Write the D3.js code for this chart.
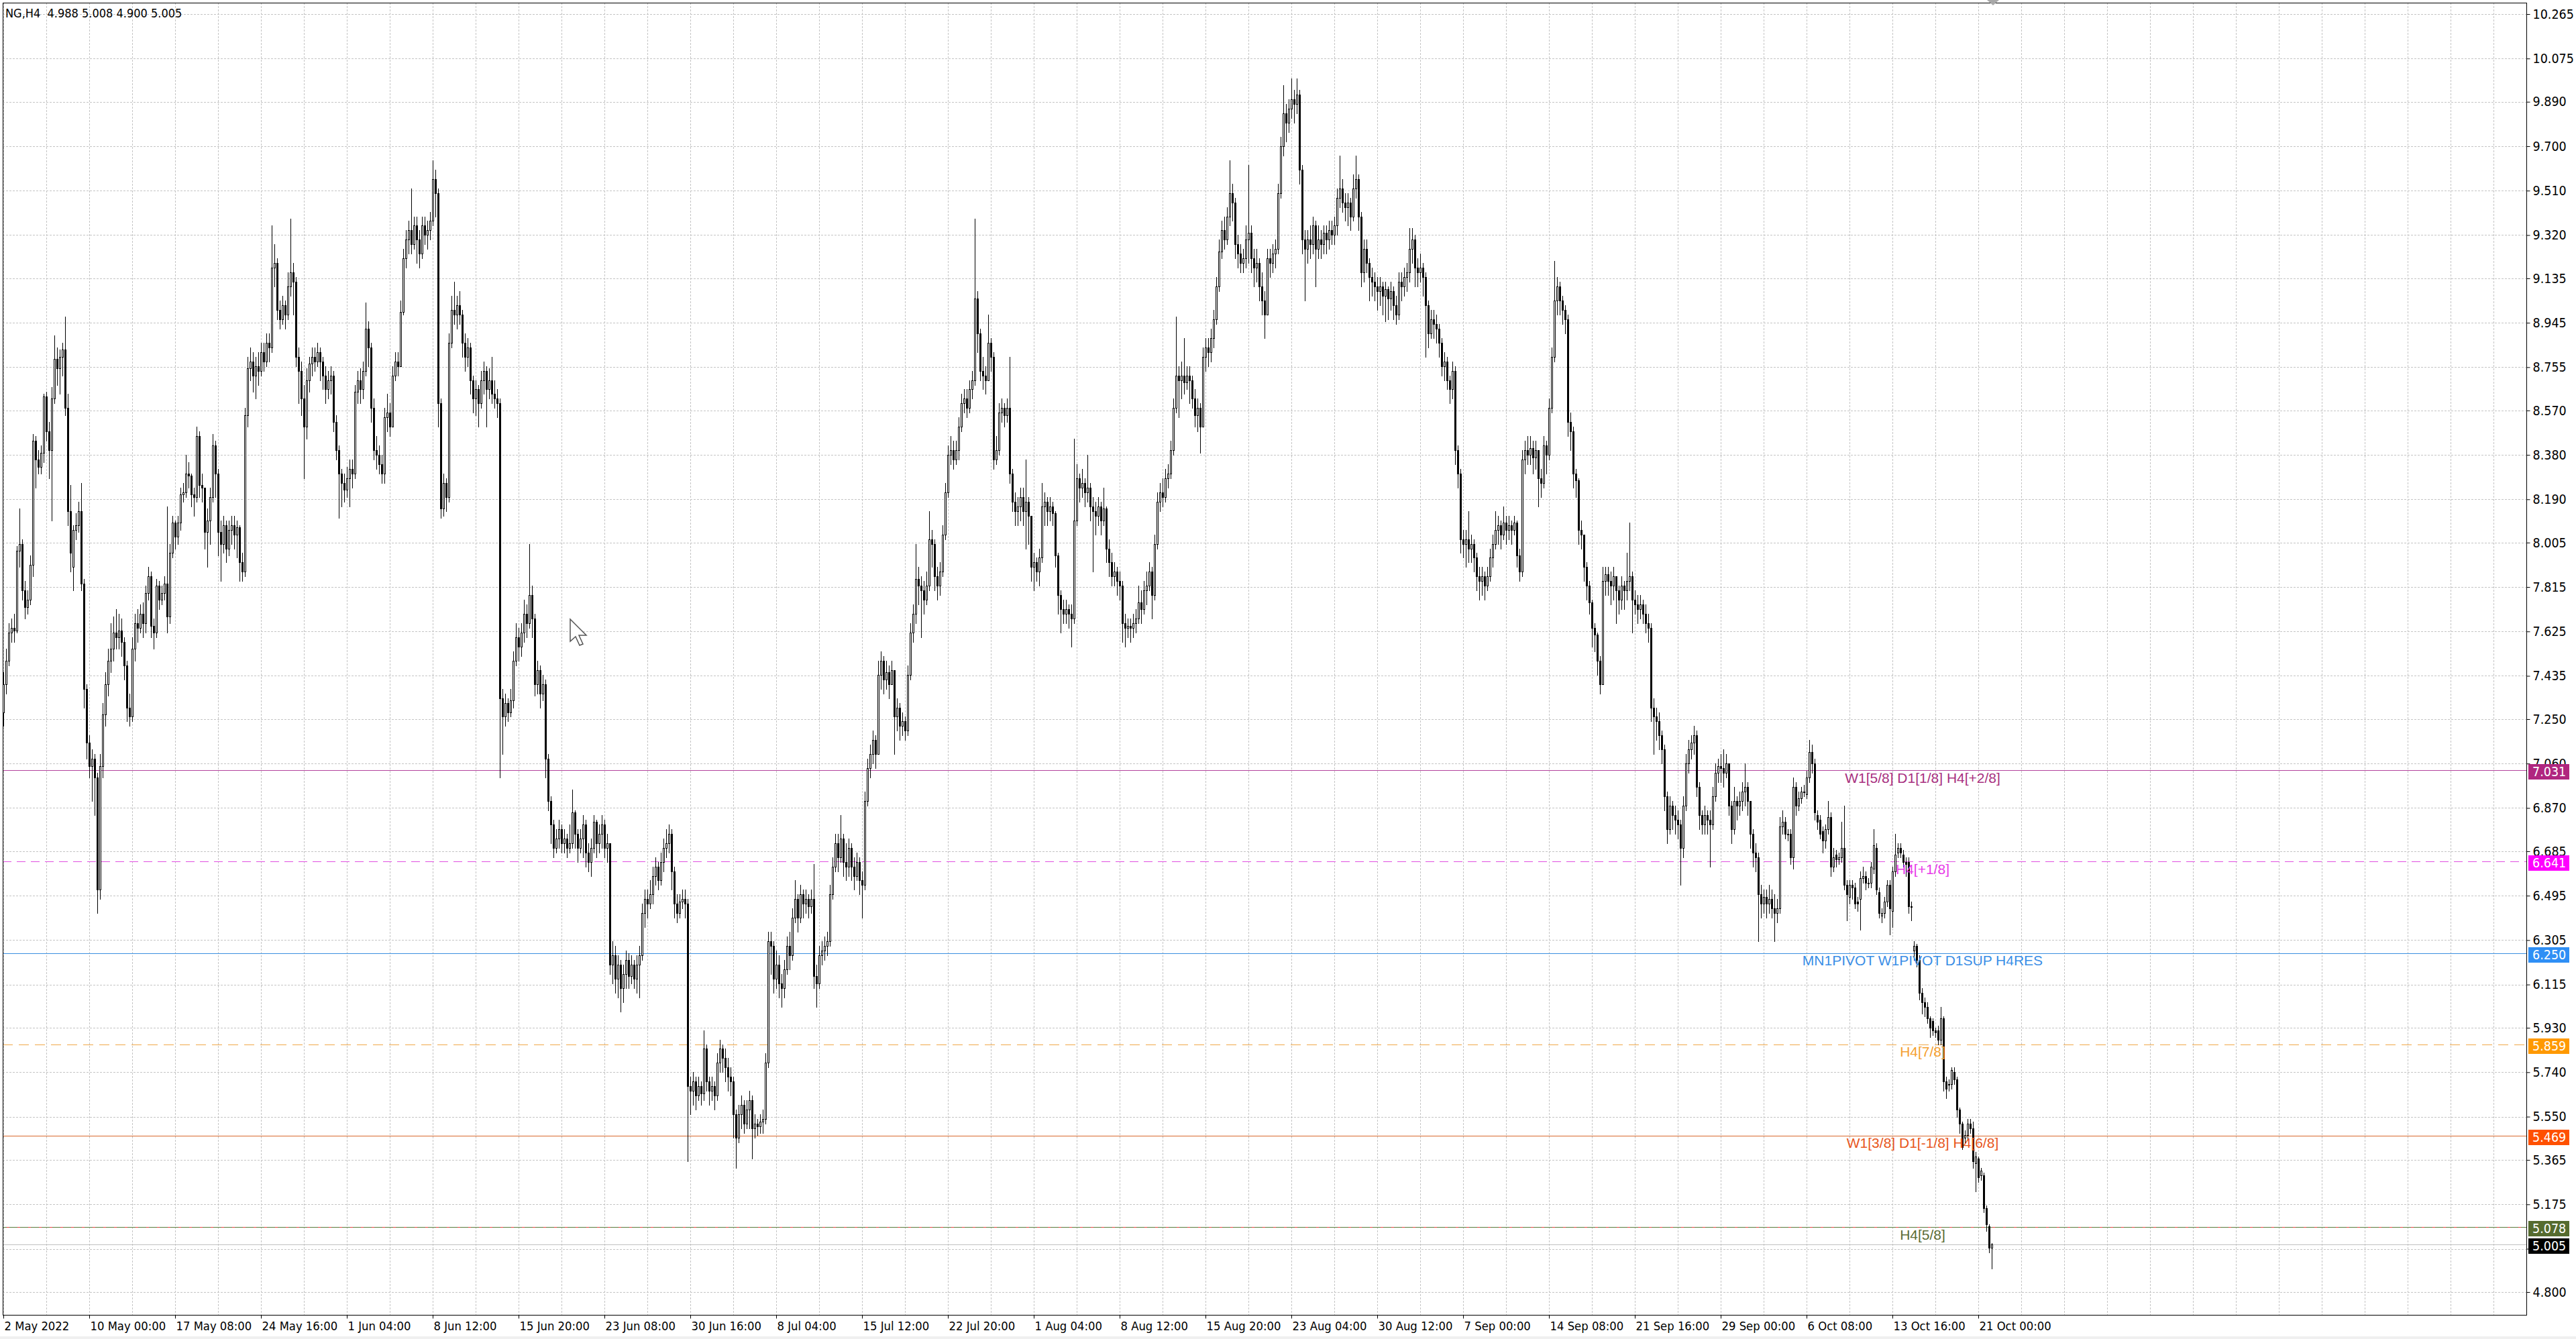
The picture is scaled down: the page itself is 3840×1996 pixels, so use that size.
<!DOCTYPE html>
<html><head><meta charset="utf-8">
<script src="https://cdn.jsdelivr.net/npm/d3@7"></script>
<style>
html,body{margin:0;padding:0;background:#fff;overflow:hidden;}
svg{display:block;}
</style></head><body>
<svg id="chart" width="3840" height="1996"></svg>
<script>
// ---------------- DATA ----------------
const symbolInfo = "NG,H4  4.988 5.008 4.900 5.005";

const opens = [
7.28,7.40,7.50,7.62,7.64,7.63,7.97,8.00,7.80,7.73,
7.76,7.91,8.44,8.36,8.33,8.39,8.63,8.48,8.40,8.62,
8.79,8.75,8.80,8.83,8.58,8.14,7.90,8.06,8.08,8.14,
7.83,7.38,7.15,7.05,7.08,7.00,6.52,7.05,7.27,7.40,
7.50,7.55,7.62,7.60,7.63,7.58,7.48,7.30,7.26,7.55,
7.66,7.64,7.70,7.66,7.79,7.86,7.65,7.62,7.82,7.76,
7.79,7.83,7.69,7.96,8.09,8.03,8.09,8.21,8.22,8.30,
8.29,8.21,8.20,8.46,8.25,8.24,8.05,8.10,8.20,8.42,
8.30,8.05,8.00,8.08,7.98,8.06,8.08,8.04,8.07,7.92,
7.88,8.55,8.75,8.78,8.72,8.76,8.74,8.82,8.78,8.86,
8.84,9.18,9.20,9.00,8.96,9.02,8.98,9.10,9.16,9.12,
8.80,8.74,8.62,8.50,8.70,8.77,8.80,8.78,8.82,8.78,
8.72,8.66,8.70,8.72,8.52,8.40,8.30,8.26,8.23,8.28,
8.32,8.30,8.65,8.70,8.66,8.74,8.92,8.84,8.58,8.40,
8.38,8.34,8.30,8.54,8.56,8.50,8.72,8.78,8.76,8.99,
9.22,9.30,9.34,9.28,9.36,9.30,9.24,9.36,9.32,9.34,
9.38,9.56,9.50,8.60,8.15,8.26,8.20,8.86,9.00,8.98,
9.02,8.98,8.86,8.80,8.84,8.70,8.62,8.66,8.60,8.70,
8.74,8.66,8.70,8.64,8.62,8.60,7.34,7.26,7.32,7.28,
7.33,7.50,7.60,7.56,7.62,7.70,7.66,7.78,7.68,7.40,
7.46,7.36,7.40,7.08,6.90,6.80,6.70,6.74,6.78,6.72,
6.74,6.70,6.72,6.85,6.76,6.70,6.74,6.80,6.68,6.64,
6.70,6.81,6.72,6.76,6.80,6.70,6.72,6.20,6.24,6.14,
6.20,6.10,6.16,6.22,6.15,6.20,6.14,6.20,6.24,6.42,
6.48,6.46,6.50,6.58,6.62,6.56,6.64,6.70,6.72,6.76,
6.60,6.46,6.42,6.47,6.48,6.46,5.68,5.66,5.70,5.64,
5.68,5.65,5.84,5.70,5.66,5.68,5.64,5.78,5.84,5.80,
5.76,5.72,5.70,5.56,5.46,5.56,5.60,5.52,5.58,5.62,
5.50,5.52,5.51,5.53,5.54,5.78,6.30,6.28,6.14,6.20,
6.12,6.10,6.18,6.28,6.24,6.40,6.48,6.40,6.50,6.46,
6.48,6.45,6.48,6.15,6.12,6.24,6.26,6.28,6.30,6.50,
6.62,6.72,6.66,6.74,6.64,6.62,6.70,6.62,6.58,6.64,
6.56,6.54,6.90,7.04,7.10,7.16,7.10,7.44,7.50,7.42,
7.45,7.40,7.46,7.26,7.30,7.22,7.24,7.20,7.44,7.62,
7.70,7.85,7.82,7.80,7.76,7.82,8.02,8.00,7.86,7.82,
7.88,8.04,8.22,8.38,8.40,8.36,8.40,8.50,8.60,8.62,
8.58,8.66,8.70,9.05,8.90,8.74,8.72,8.70,8.86,8.80,
8.36,8.40,8.56,8.58,8.55,8.58,8.30,8.18,8.14,8.16,
8.20,8.14,8.18,8.12,7.90,7.92,7.88,7.94,8.16,8.18,
8.14,8.16,8.13,7.95,7.78,7.72,7.70,7.72,7.70,7.68,
8.10,8.28,8.24,8.26,8.22,8.24,8.16,8.14,8.12,8.16,
8.10,8.15,7.98,7.92,7.86,7.88,7.84,7.82,7.66,7.64,
7.65,7.64,7.66,7.68,7.75,7.72,7.80,7.82,7.88,7.78,
8.00,8.18,8.22,8.20,8.28,8.30,8.40,8.58,8.72,8.70,
8.72,8.69,8.72,8.70,8.62,8.55,8.58,8.50,8.80,8.84,
8.82,8.88,8.96,9.10,9.25,9.34,9.30,9.40,9.50,9.46,
9.28,9.24,9.20,9.22,9.30,9.33,9.22,9.18,9.20,9.10,
9.04,8.98,9.22,9.20,9.24,9.26,9.50,9.70,9.84,9.80,
9.86,9.90,9.88,9.92,9.60,9.30,9.26,9.30,9.28,9.36,
9.26,9.30,9.28,9.33,9.30,9.34,9.32,9.36,9.48,9.52,
9.46,9.44,9.46,9.40,9.52,9.56,9.40,9.16,9.26,9.20,
9.14,9.12,9.10,9.08,9.10,9.06,9.09,9.05,9.08,9.02,
8.98,9.12,9.10,9.14,9.16,9.26,9.30,9.18,9.16,9.18,
9.14,9.02,8.90,8.96,8.94,8.92,8.86,8.76,8.78,8.70,
8.66,8.74,8.40,8.30,8.02,8.00,8.02,7.98,8.00,7.94,
7.86,7.84,7.86,7.82,7.86,7.94,8.00,8.06,8.08,8.04,
8.09,8.06,8.08,8.06,8.09,7.95,7.88,8.36,8.40,8.38,
8.41,8.37,8.40,8.28,8.26,8.42,8.38,8.58,8.80,9.04,
9.10,9.04,9.00,8.96,8.52,8.48,8.30,8.27,8.06,8.04,
7.90,7.82,7.75,7.64,7.61,7.50,7.40,7.84,7.87,7.84,
7.82,7.86,7.80,7.76,7.82,7.80,7.84,7.86,7.76,7.74,
7.72,7.74,7.70,7.66,7.64,7.30,7.26,7.24,7.18,7.12,
6.92,6.78,6.88,6.84,6.82,6.80,6.70,6.88,7.06,7.12,
7.15,7.18,6.96,6.84,6.80,6.84,6.82,6.80,6.92,7.02,
7.05,7.04,7.02,7.06,6.88,6.78,6.90,6.88,6.90,6.94,
6.96,6.90,6.76,6.68,6.66,6.50,6.46,6.49,6.46,6.48,
6.44,6.42,6.44,6.79,6.81,6.76,6.76,6.66,6.96,6.88,
6.91,6.94,6.93,7.00,7.11,7.06,6.84,6.82,6.77,6.73,
6.78,6.83,6.62,6.67,6.65,6.66,6.70,6.54,6.49,6.54,
6.53,6.47,6.48,6.57,6.58,6.55,6.55,6.61,6.70,6.51,
6.41,6.42,6.47,6.54,6.43,6.60,6.68,6.70,6.67,6.64,
6.64,6.45,6.26,6.28,6.22,6.08,6.04,6.02,5.97,5.96,
5.92,5.92,5.88,5.97,5.70,5.69,5.69,5.74,5.71,5.58,
5.52,5.46,5.47,5.52,5.50,5.35,5.37,5.30,5.30,5.16,
5.08,4.988];

const highs = [
7.45,7.55,7.66,7.68,7.70,7.99,8.15,8.02,7.84,7.80,
7.95,8.47,8.46,8.40,8.42,8.64,8.65,8.52,8.67,8.89,
8.84,8.83,8.86,8.97,8.64,8.25,8.08,8.13,8.18,8.26,
7.85,7.40,7.18,7.12,7.10,7.02,7.10,7.32,7.45,7.55,
7.66,7.69,7.72,7.70,7.68,7.60,7.50,7.36,7.60,7.70,
7.72,7.74,7.75,7.82,7.90,7.88,7.68,7.85,7.84,7.82,
7.86,8.16,8.00,8.12,8.10,8.12,8.24,8.26,8.38,8.35,
8.30,8.24,8.50,8.48,8.30,8.24,8.15,8.24,8.47,8.44,
8.32,8.10,8.12,8.10,8.10,8.12,8.12,8.10,8.08,7.96,
8.58,8.80,8.84,8.82,8.80,8.82,8.86,8.86,8.90,8.90,
9.36,9.28,9.22,9.04,9.06,9.04,9.16,9.39,9.20,9.14,
8.84,8.78,8.68,8.75,8.80,8.84,8.84,8.86,8.84,8.80,
8.76,8.74,8.76,8.74,8.55,8.42,8.32,8.30,8.33,8.36,
8.36,8.68,8.74,8.75,8.78,9.03,8.95,8.86,8.62,8.46,
8.42,8.38,8.58,8.64,8.60,8.76,8.82,8.82,9.04,9.26,
9.34,9.38,9.52,9.40,9.40,9.34,9.40,9.40,9.38,9.42,
9.64,9.60,9.52,8.62,8.30,8.28,8.90,9.06,9.12,9.06,
9.08,9.00,8.90,8.88,8.86,8.72,8.70,8.68,8.74,8.78,
8.76,8.75,8.80,8.70,8.66,8.62,7.38,7.36,7.34,7.38,
7.54,7.66,7.64,7.66,7.76,7.74,8.00,7.82,7.70,7.50,
7.48,7.44,7.42,7.10,6.92,6.82,6.78,6.82,6.80,6.78,
6.76,6.80,6.95,6.86,6.78,6.78,6.84,6.82,6.72,6.74,
6.84,6.82,6.80,6.84,6.82,6.76,6.72,6.30,6.28,6.24,
6.22,6.20,6.26,6.25,6.24,6.22,6.24,6.28,6.46,6.52,
6.52,6.56,6.62,6.66,6.64,6.68,6.74,6.78,6.80,6.78,
6.62,6.50,6.50,6.52,6.52,6.48,5.72,5.74,5.72,5.72,
5.70,5.92,5.86,5.72,5.72,5.70,5.82,5.88,5.86,5.84,
5.80,5.76,5.72,5.58,5.60,5.64,5.62,5.62,5.66,5.64,
5.56,5.54,5.56,5.58,5.82,6.34,6.34,6.30,6.26,6.24,
6.16,6.22,6.32,6.34,6.44,6.56,6.50,6.54,6.52,6.52,
6.50,6.52,6.63,6.20,6.28,6.30,6.32,6.34,6.54,6.66,
6.76,6.76,6.84,6.76,6.72,6.74,6.72,6.66,6.68,6.66,
6.60,6.94,7.08,7.14,7.20,7.18,7.50,7.54,7.52,7.50,
7.48,7.50,7.46,7.34,7.32,7.28,7.26,7.48,7.66,7.74,
8.00,7.90,7.86,7.84,7.88,8.14,8.06,8.02,7.90,7.92,
8.08,8.26,8.42,8.46,8.44,8.44,8.54,8.64,8.66,8.66,
8.70,8.74,9.39,9.08,8.92,8.80,8.76,8.98,8.88,8.82,
8.46,8.60,8.62,8.60,8.62,8.80,8.32,8.22,8.20,8.24,
8.24,8.36,8.20,8.12,7.96,7.94,7.98,8.26,8.22,8.20,
8.20,8.18,8.14,7.96,7.80,7.76,7.76,7.74,7.74,8.45,
8.34,8.30,8.32,8.28,8.38,8.26,8.20,8.18,8.20,8.18,
8.24,8.16,8.02,7.96,7.92,7.90,7.88,7.84,7.70,7.68,
7.68,7.70,7.72,7.82,7.80,7.84,7.88,7.92,7.90,8.04,
8.22,8.26,8.28,8.32,8.34,8.44,8.62,8.97,8.76,8.78,
8.88,8.76,8.76,8.72,8.66,8.62,8.60,8.84,8.88,8.88,
8.92,9.00,9.14,9.30,9.38,9.40,9.44,9.64,9.54,9.48,
9.32,9.28,9.26,9.36,9.62,9.36,9.26,9.26,9.22,9.16,
9.08,9.26,9.26,9.28,9.30,9.54,9.74,9.96,9.88,9.90,
9.99,9.94,9.99,9.94,9.62,9.34,9.34,9.36,9.40,9.38,
9.36,9.34,9.36,9.36,9.38,9.38,9.40,9.52,9.66,9.56,
9.50,9.50,9.48,9.58,9.66,9.58,9.42,9.30,9.30,9.22,
9.18,9.16,9.14,9.14,9.12,9.12,9.10,9.12,9.10,9.06,
9.16,9.16,9.18,9.20,9.35,9.35,9.32,9.22,9.24,9.20,
9.16,9.04,9.00,9.00,8.98,8.94,8.88,8.82,8.80,8.72,
8.78,8.76,8.42,8.32,8.06,8.06,8.14,8.04,8.02,7.96,
7.90,7.90,7.88,7.90,7.98,8.04,8.14,8.12,8.10,8.16,
8.12,8.12,8.10,8.12,8.10,7.98,8.40,8.44,8.46,8.46,
8.44,8.44,8.40,8.32,8.46,8.44,8.62,8.84,9.21,9.14,
9.12,9.06,9.02,8.98,8.56,8.50,8.32,8.28,8.10,8.04,
7.92,7.84,7.76,7.66,7.62,7.52,7.90,7.90,7.90,7.88,
7.90,7.86,7.82,7.86,7.84,7.96,8.09,7.88,7.80,7.78,
7.78,7.76,7.74,7.70,7.66,7.34,7.30,7.28,7.20,7.14,
6.94,6.92,6.90,6.88,6.86,6.82,6.92,7.10,7.16,7.18,
7.22,7.20,6.98,6.86,6.88,6.86,6.86,6.96,7.06,7.08,
7.10,7.12,7.10,7.06,6.90,6.96,6.92,6.94,6.98,7.06,
6.98,6.90,6.78,6.72,6.68,6.54,6.52,6.52,6.54,6.52,
6.50,6.48,6.83,6.86,6.83,6.78,6.78,7.00,6.98,6.94,
6.96,6.97,7.03,7.16,7.14,7.08,6.86,6.84,6.79,6.80,
6.90,6.85,6.70,6.69,6.68,6.81,6.88,6.56,6.56,6.56,
6.55,6.49,6.60,6.62,6.60,6.57,6.64,6.78,6.72,6.53,
6.44,6.49,6.56,6.56,6.62,6.76,6.72,6.72,6.69,6.66,
6.66,6.47,6.30,6.29,6.24,6.10,6.06,6.04,5.98,5.97,
5.93,5.94,6.02,5.98,5.72,5.71,5.76,5.76,5.72,5.59,
5.53,5.49,5.54,5.54,5.53,5.40,5.38,5.33,5.31,5.17,
5.09,5.008];

const lows = [
7.22,7.36,7.48,7.58,7.58,7.62,7.90,7.76,7.68,7.70,
7.74,7.86,8.24,8.30,8.30,8.35,8.44,8.28,8.10,8.60,
8.68,8.64,8.72,8.55,8.08,7.88,7.80,8.02,8.05,7.80,
7.30,7.08,7.00,6.90,6.84,6.42,6.48,7.00,7.22,7.35,
7.45,7.50,7.55,7.55,7.52,7.42,7.24,7.22,7.24,7.50,
7.58,7.62,7.60,7.62,7.76,7.60,7.55,7.60,7.72,7.74,
7.76,7.62,7.66,7.94,7.98,8.00,8.06,8.18,8.20,8.24,
8.16,8.12,8.18,8.20,8.18,7.98,7.90,8.00,8.18,8.20,
7.95,7.84,7.96,7.92,7.95,8.00,7.98,7.94,7.84,7.84,
7.86,8.50,8.70,8.65,8.62,8.68,8.72,8.74,8.76,8.78,
8.82,9.10,8.96,8.92,8.94,8.92,8.96,9.06,8.98,8.76,
8.60,8.55,8.28,8.45,8.65,8.72,8.74,8.76,8.70,8.66,
8.60,8.62,8.64,8.48,8.36,8.11,8.16,8.18,8.20,8.16,
8.24,8.28,8.60,8.60,8.62,8.72,8.76,8.52,8.36,8.32,
8.30,8.26,8.26,8.48,8.46,8.50,8.70,8.72,8.76,8.98,
9.18,9.24,9.24,9.26,9.20,9.18,9.22,9.28,9.26,9.30,
9.36,9.40,8.50,8.11,8.12,8.14,8.18,8.84,8.94,8.92,
8.94,8.80,8.74,8.76,8.64,8.56,8.55,8.50,8.58,8.64,
8.50,8.62,8.60,8.58,8.54,7.00,7.10,7.22,7.24,7.26,
7.30,7.48,7.50,7.52,7.58,7.60,7.64,7.60,7.35,7.36,
7.30,7.33,7.00,6.86,6.72,6.66,6.68,6.70,6.68,6.68,
6.66,6.68,6.70,6.70,6.64,6.68,6.66,6.62,6.60,6.58,
6.68,6.66,6.68,6.70,6.66,6.64,6.16,6.12,6.08,6.06,
6.00,6.04,6.10,6.10,6.12,6.10,6.08,6.06,6.22,6.36,
6.40,6.44,6.46,6.54,6.52,6.54,6.60,6.66,6.68,6.52,
6.40,6.38,6.40,6.44,6.40,5.36,5.56,5.60,5.58,5.62,
5.60,5.62,5.66,5.60,5.62,5.58,5.62,5.74,5.74,5.70,
5.66,5.64,5.46,5.33,5.44,5.50,5.48,5.50,5.50,5.37,
5.46,5.47,5.48,5.48,5.52,5.76,6.16,6.08,6.10,6.06,
6.02,6.06,6.16,6.18,6.22,6.38,6.34,6.38,6.40,6.42,
6.40,6.42,6.10,6.02,6.10,6.20,6.22,6.24,6.28,6.48,
6.60,6.60,6.64,6.58,6.56,6.58,6.56,6.52,6.56,6.50,
6.40,6.52,6.88,7.00,7.06,7.04,7.10,7.38,7.36,7.38,
7.34,7.40,7.10,7.20,7.16,7.18,7.16,7.18,7.42,7.58,
7.66,7.74,7.60,7.70,7.74,7.80,7.90,7.80,7.76,7.78,
7.86,8.02,8.20,8.34,8.32,8.34,8.36,8.48,8.56,8.54,
8.56,8.62,8.68,8.82,8.70,8.66,8.64,8.70,8.74,8.32,
8.34,8.38,8.52,8.50,8.52,8.26,8.14,8.08,8.08,8.10,
8.08,7.98,8.00,7.84,7.80,7.84,7.82,7.92,8.08,8.08,
8.10,8.08,7.90,7.70,7.62,7.66,7.66,7.64,7.56,7.66,
8.08,8.18,8.20,8.16,8.18,8.10,7.88,8.04,8.08,8.04,
8.08,7.92,7.86,7.82,7.82,7.78,7.76,7.58,7.56,7.60,
7.58,7.60,7.62,7.66,7.66,7.70,7.74,7.80,7.68,7.76,
7.98,8.14,8.16,8.18,8.24,8.28,8.38,8.56,8.54,8.62,
8.64,8.66,8.60,8.58,8.50,8.48,8.39,8.50,8.74,8.76,
8.78,8.84,8.94,9.08,9.22,9.26,9.28,9.36,9.38,9.22,
9.18,9.16,9.16,9.18,9.20,9.16,9.10,9.12,9.04,8.98,
8.88,8.98,9.14,9.16,9.18,9.24,9.48,9.66,9.72,9.76,
9.82,9.80,9.84,9.54,9.24,9.04,9.20,9.22,9.24,9.10,
9.22,9.22,9.24,9.24,9.26,9.28,9.28,9.32,9.44,9.42,
9.38,9.36,9.34,9.38,9.48,9.34,9.10,9.12,9.16,9.04,
9.06,9.04,9.00,9.02,8.98,8.95,8.96,9.00,8.96,8.94,
8.96,9.04,9.06,9.08,9.12,9.20,9.10,9.10,9.12,9.06,
8.80,8.84,8.88,8.88,8.86,8.80,8.72,8.70,8.66,8.60,
8.62,8.34,8.24,7.96,7.94,7.90,7.92,7.92,7.88,7.80,
7.76,7.78,7.76,7.80,7.84,7.90,7.98,8.00,7.98,8.02,
8.00,8.02,8.00,8.04,7.90,7.84,7.86,8.30,8.34,8.34,
8.30,8.32,8.16,8.20,8.24,8.30,8.36,8.56,8.78,8.98,
8.98,8.94,8.90,8.46,8.40,8.24,8.20,8.00,7.98,7.84,
7.76,7.70,7.56,7.54,7.44,7.36,7.40,7.78,7.78,7.74,
7.76,7.66,7.70,7.72,7.72,7.76,7.80,7.62,7.70,7.66,
7.68,7.66,7.62,7.58,7.24,7.10,7.16,7.12,7.06,6.86,
6.72,6.76,6.78,6.76,6.74,6.54,6.66,6.86,7.02,7.08,
7.10,6.92,6.78,6.76,6.76,6.76,6.62,6.78,6.90,6.98,
6.98,6.96,7.00,6.84,6.72,6.76,6.82,6.84,6.86,6.88,
6.84,6.70,6.62,6.60,6.30,6.40,6.42,6.40,6.42,6.40,
6.30,6.38,6.42,6.76,6.74,6.73,6.63,6.61,6.84,6.86,
6.89,6.92,6.91,6.98,7.02,6.82,6.78,6.74,6.68,6.70,
6.76,6.58,6.60,6.62,6.63,6.64,6.52,6.39,6.46,6.48,
6.44,6.43,6.35,6.55,6.52,6.53,6.53,6.59,6.50,6.40,
6.38,6.40,6.45,6.33,6.36,6.58,6.66,6.66,6.62,6.58,
6.42,6.39,6.22,6.19,6.05,5.99,5.98,5.95,5.89,5.90,
5.89,5.86,5.86,5.66,5.63,5.66,5.67,5.69,5.55,5.48,
5.41,5.44,5.45,5.48,5.33,5.23,5.27,5.28,5.14,5.06,
4.97,4.900];

const closes = [
7.40,7.50,7.62,7.64,7.63,7.97,8.00,7.80,7.73,7.76,
7.91,8.44,8.36,8.33,8.39,8.63,8.48,8.40,8.62,8.79,
8.75,8.80,8.83,8.58,8.14,7.96,8.06,8.08,8.14,7.83,
7.38,7.15,7.05,7.08,7.00,6.52,7.05,7.27,7.40,7.50,
7.55,7.62,7.60,7.63,7.58,7.48,7.30,7.26,7.55,7.66,
7.64,7.70,7.66,7.79,7.86,7.65,7.62,7.82,7.76,7.79,
7.83,7.69,7.96,8.09,8.03,8.09,8.21,8.22,8.30,8.29,
8.21,8.20,8.46,8.25,8.24,8.05,8.10,8.20,8.42,8.30,
8.05,8.00,8.08,7.98,8.06,8.08,8.04,8.07,7.92,7.88,
8.55,8.75,8.78,8.72,8.76,8.74,8.82,8.78,8.86,8.84,
9.18,9.20,9.00,8.96,9.02,8.98,9.10,9.16,9.12,8.80,
8.74,8.62,8.50,8.70,8.77,8.80,8.78,8.82,8.78,8.72,
8.66,8.70,8.72,8.52,8.40,8.30,8.26,8.23,8.28,8.32,
8.30,8.65,8.70,8.66,8.74,8.92,8.84,8.58,8.40,8.38,
8.34,8.30,8.54,8.56,8.50,8.72,8.78,8.76,8.99,9.22,
9.30,9.34,9.28,9.36,9.30,9.24,9.36,9.32,9.34,9.38,
9.56,9.50,8.60,8.15,8.26,8.20,8.86,9.00,8.98,9.02,
8.98,8.86,8.80,8.84,8.70,8.62,8.66,8.60,8.70,8.74,
8.66,8.70,8.64,8.62,8.60,7.34,7.26,7.32,7.28,7.33,
7.50,7.60,7.56,7.62,7.70,7.66,7.78,7.68,7.40,7.46,
7.36,7.40,7.08,6.90,6.80,6.70,6.74,6.78,6.72,6.74,
6.70,6.72,6.85,6.76,6.70,6.74,6.80,6.68,6.64,6.70,
6.81,6.72,6.76,6.80,6.70,6.72,6.20,6.24,6.14,6.20,
6.10,6.16,6.22,6.15,6.20,6.14,6.20,6.24,6.42,6.48,
6.46,6.50,6.58,6.62,6.56,6.64,6.70,6.72,6.76,6.60,
6.46,6.42,6.47,6.48,6.46,5.68,5.66,5.70,5.64,5.68,
5.65,5.84,5.70,5.66,5.68,5.64,5.78,5.84,5.80,5.76,
5.72,5.70,5.56,5.46,5.56,5.60,5.52,5.58,5.62,5.50,
5.52,5.51,5.53,5.54,5.78,6.30,6.28,6.14,6.20,6.12,
6.10,6.18,6.28,6.24,6.40,6.48,6.40,6.50,6.46,6.48,
6.45,6.48,6.15,6.12,6.24,6.26,6.28,6.30,6.50,6.62,
6.72,6.66,6.74,6.64,6.62,6.70,6.62,6.58,6.64,6.56,
6.54,6.90,7.04,7.10,7.16,7.10,7.44,7.50,7.42,7.45,
7.40,7.46,7.26,7.30,7.22,7.24,7.20,7.44,7.62,7.70,
7.85,7.82,7.80,7.76,7.82,8.02,8.00,7.86,7.82,7.88,
8.04,8.22,8.38,8.40,8.36,8.40,8.50,8.60,8.62,8.58,
8.66,8.70,9.05,8.90,8.74,8.72,8.70,8.86,8.80,8.36,
8.40,8.56,8.58,8.55,8.58,8.30,8.18,8.14,8.16,8.20,
8.14,8.18,8.12,7.90,7.92,7.88,7.94,8.16,8.18,8.14,
8.16,8.13,7.95,7.78,7.72,7.70,7.72,7.70,7.68,8.10,
8.28,8.24,8.26,8.22,8.24,8.16,8.14,8.12,8.16,8.10,
8.15,7.98,7.92,7.86,7.88,7.84,7.82,7.66,7.64,7.65,
7.64,7.66,7.68,7.75,7.72,7.80,7.82,7.88,7.78,8.00,
8.18,8.22,8.20,8.28,8.30,8.40,8.58,8.72,8.70,8.72,
8.69,8.72,8.70,8.62,8.55,8.58,8.50,8.80,8.84,8.82,
8.88,8.96,9.10,9.25,9.34,9.30,9.40,9.50,9.46,9.28,
9.24,9.20,9.22,9.30,9.33,9.22,9.18,9.20,9.10,9.04,
8.98,9.22,9.20,9.24,9.26,9.50,9.70,9.84,9.80,9.86,
9.90,9.88,9.92,9.60,9.30,9.26,9.30,9.28,9.36,9.26,
9.30,9.28,9.33,9.30,9.34,9.32,9.36,9.48,9.52,9.46,
9.44,9.46,9.40,9.52,9.56,9.40,9.16,9.26,9.20,9.14,
9.12,9.10,9.08,9.10,9.06,9.09,9.05,9.08,9.02,8.98,
9.12,9.10,9.14,9.16,9.26,9.30,9.18,9.16,9.18,9.14,
9.02,8.90,8.96,8.94,8.92,8.86,8.76,8.78,8.70,8.66,
8.74,8.40,8.30,8.02,8.00,8.02,7.98,8.00,7.94,7.86,
7.84,7.86,7.82,7.86,7.94,8.00,8.06,8.08,8.04,8.09,
8.06,8.08,8.06,8.09,7.95,7.88,8.36,8.40,8.38,8.41,
8.37,8.40,8.28,8.26,8.42,8.38,8.58,8.80,9.04,9.10,
9.04,9.00,8.96,8.52,8.48,8.30,8.27,8.06,8.04,7.90,
7.82,7.75,7.64,7.61,7.50,7.40,7.84,7.87,7.84,7.82,
7.86,7.80,7.76,7.82,7.80,7.84,7.86,7.76,7.74,7.72,
7.74,7.70,7.66,7.64,7.30,7.26,7.24,7.18,7.12,6.92,
6.78,6.88,6.84,6.82,6.80,6.70,6.88,7.06,7.12,7.15,
7.18,6.96,6.84,6.80,6.84,6.82,6.80,6.92,7.02,7.05,
7.04,7.02,7.06,6.88,6.78,6.90,6.88,6.90,6.94,6.96,
6.90,6.76,6.68,6.66,6.50,6.46,6.49,6.46,6.48,6.44,
6.42,6.44,6.79,6.81,6.76,6.76,6.66,6.96,6.88,6.91,
6.94,6.94,7.00,7.11,7.06,6.85,6.81,6.76,6.73,6.78,
6.83,6.62,6.66,6.65,6.66,6.70,6.54,6.50,6.54,6.53,
6.46,6.46,6.57,6.58,6.55,6.55,6.62,6.71,6.52,6.42,
6.42,6.47,6.54,6.44,6.60,6.67,6.70,6.68,6.64,6.63,
6.45,6.45,6.28,6.22,6.08,6.04,6.02,5.97,5.93,5.92,
5.91,5.88,5.97,5.70,5.67,5.69,5.75,5.71,5.58,5.52,
5.42,5.47,5.52,5.50,5.36,5.38,5.29,5.32,5.16,5.09,
4.99,5.005];

const priceTicks = [10.265,10.075,9.890,9.700,9.510,9.320,9.135,8.945,8.755,8.570,8.380,8.190,8.005,7.815,7.625,7.435,7.250,7.060,6.870,6.685,6.495,6.305,6.115,5.930,5.740,5.550,5.365,5.175,4.985,4.800];

const timeTickBars = [0,32,64,96,128,160,192,224,256,288,320,352,384,416,448,480,512,544,576,608,640,672,704,736];
const timeTickLabels = ["2 May 2022","10 May 00:00","17 May 08:00","24 May 16:00","1 Jun 04:00","8 Jun 12:00","15 Jun 20:00","23 Jun 08:00","30 Jun 16:00","8 Jul 04:00","15 Jul 12:00","22 Jul 20:00","1 Aug 04:00","8 Aug 12:00","15 Aug 20:00","23 Aug 04:00","30 Aug 12:00","7 Sep 00:00","14 Sep 08:00","21 Sep 16:00","29 Sep 00:00","6 Oct 08:00","13 Oct 16:00","21 Oct 00:00"];

const levelPrices = [7.031, 6.641, 6.250, 5.859, 5.469, 5.078];
const levelNames = ["W1[5/8] D1[1/8] H4[+2/8]", "H4[+1/8]", "MN1PIVOT W1PIVOT D1SUP H4RES", "H4[7/8]", "W1[3/8] D1[-1/8] H4[6/8]", "H4[5/8]"];
const bidPrice = 5.005;

// ---------------- STYLE ----------------
const levelStyle = [
  {line:"#b4449c", dash:null,   text:"#a8307f", box:"#b0267f"},
  {line:"#e050e0", dash:"13,8", text:"#e83ae8", box:"#ff00ff"},
  {line:"#3a8fe0", dash:null,   text:"#3a8ee6", box:"#2f8ff5"},
  {line:"#f0a848", dash:"15,9", text:"#f5a030", box:"#ff9900"},
  {line:"#d8682c", dash:null,   text:"#e8561c", box:"#ff5000"},
  {line:"#5a7a3a", dash:null,   text:"#5a6b35", box:"#556b2f", overlay:"#e03c3c"}
];
const axisFont = '"DejaVu Sans Condensed","Liberation Sans Narrow","DejaVu Sans",sans-serif';
const labelFont = '"Liberation Sans",Arial,sans-serif';
const priceSize = 19.5, timeSize = 18.3;

const W = 3840, H = 1996;
const plot = {left:4, top:4, right:3766, bottom:1960};

const svg = d3.select("#chart");
const x = d3.scaleLinear().domain([0, 940]).range([5, 3765]);
const y = d3.scaleLinear().domain([4.8, 10.265]).range([1926, 21]);
const px = v => Math.round(v);

// window background
svg.append("rect").attr("width", W).attr("height", H).attr("fill", "#ffffff");
svg.append("rect").attr("x",0).attr("y",H-4).attr("width",W).attr("height",4).attr("fill","#f0f0f0");

// grid
const grid = svg.append("g").attr("shape-rendering","crispEdges").attr("stroke","#c4c4c4").attr("stroke-dasharray","3,2");
grid.selectAll("line.h").data(priceTicks).join("line")
  .attr("x1", plot.left).attr("x2", plot.right)
  .attr("y1", d => px(y(d)) + 0.5).attr("y2", d => px(y(d)) + 0.5);
const vIdx = d3.range(0, 941, 16).filter(i => x(i) < plot.right - 2);
grid.selectAll("line.v").data(vIdx).join("line")
  .attr("y1", plot.top).attr("y2", plot.bottom)
  .attr("x1", d => px(x(d)) + 0.5).attr("x2", d => px(x(d)) + 0.5);

// level lines
const lv = svg.append("g").attr("shape-rendering","crispEdges");
levelPrices.forEach((p, k) => {
  const st = levelStyle[k];
  const yy = px(y(p)) + 0.5;
  lv.append("line").attr("x1", plot.left).attr("x2", plot.right).attr("y1", yy).attr("y2", yy)
    .attr("stroke", st.line).attr("stroke-width", 1).attr("stroke-dasharray", st.dash);
  if (st.overlay) {
    lv.append("line").attr("x1", plot.left + 6).attr("x2", plot.right).attr("y1", yy).attr("y2", yy)
      .attr("stroke", st.overlay).attr("stroke-width", 1).attr("stroke-dasharray", "4,12");
  }
});
// bid line
lv.append("line").attr("x1", plot.left).attr("x2", plot.right)
  .attr("y1", px(y(bidPrice)) + 0.5).attr("y2", px(y(bidPrice)) + 0.5)
  .attr("stroke", "#c0c0c0").attr("stroke-width", 1);

// candles
const bars = closes.map((c, i) => ({i, o: opens[i], h: highs[i], l: lows[i], c}));
const cg = svg.append("g").attr("shape-rendering","crispEdges");
cg.selectAll("line.wick").data(bars).join("line")
  .attr("x1", d => px(x(d.i)) + 0.5).attr("x2", d => px(x(d.i)) + 0.5)
  .attr("y1", d => px(y(Math.max(d.h, d.o, d.c))))
  .attr("y2", d => px(y(Math.min(d.l, d.o, d.c))) + 1)
  .attr("stroke", "#000").attr("stroke-width", 1);
cg.selectAll("rect.body").data(bars).join("rect")
  .each(function(d) {
    const xc = px(x(d.i));
    const yt = px(y(Math.max(d.o, d.c))), yb = px(y(Math.min(d.o, d.c)));
    const s = d3.select(this);
    if (d.c >= d.o) {
      s.attr("x", xc - 0.5).attr("y", yt + 0.5).attr("width", 2).attr("height", Math.max(yb - yt, 1))
       .attr("fill", "#fff").attr("stroke", "#000").attr("stroke-width", 1);
    } else {
      s.attr("x", xc - 1).attr("y", yt).attr("width", 3).attr("height", Math.max(yb - yt + 1, 1))
       .attr("fill", "#000");
    }
  });

// level texts
const labelX = x(715.25);
levelPrices.forEach((p, k) => {
  svg.append("text").attr("x", labelX).attr("y", y(p) + 18.5)
    .attr("text-anchor", "middle").attr("font-family", labelFont).attr("font-size", 21)
    .attr("fill", levelStyle[k].text).text(levelNames[k]);
});

// frame
svg.append("rect").attr("x", plot.left + 0.5).attr("y", plot.top + 0.5)
  .attr("width", plot.right - plot.left).attr("height", plot.bottom - plot.top)
  .attr("fill", "none").attr("stroke", "#000").attr("stroke-width", 1).attr("shape-rendering","crispEdges");

// right price axis
const yAxis = d3.axisRight(y).tickValues(priceTicks).tickFormat(d => d.toFixed(3)).tickSize(5).tickPadding(4);
const ya = svg.append("g").attr("transform", `translate(${plot.right + 0.5},0)`).call(yAxis);
ya.select(".domain").remove();
ya.attr("font-family", axisFont).attr("font-size", priceSize);
ya.selectAll("text").attr("fill", "#000");
ya.selectAll("line").attr("stroke", "#000");

// bottom time axis
const xAxis = d3.axisBottom(x).tickValues(timeTickBars).tickFormat((d, i) => timeTickLabels[i]).tickSize(5).tickPadding(5);
const xa = svg.append("g").attr("transform", `translate(0,${plot.bottom + 0.5})`).call(xAxis);
xa.select(".domain").remove();
xa.attr("font-family", axisFont).attr("font-size", timeSize);
xa.selectAll("text").attr("text-anchor", "start").attr("x", 1).attr("fill", "#000");
xa.selectAll("line").attr("stroke", "#000");

// price boxes on the axis (drawn over the tick labels, as in the terminal)
const boxData = levelPrices.map((p, k) => ({p, fill: levelStyle[k].box})).concat([{p: bidPrice, fill: "#000"}]);
const bx = svg.append("g");
boxData.forEach(b => {
  const cy = px(y(b.p)) + 2;
  bx.append("rect").attr("x", plot.right + 3).attr("y", cy - 11.5).attr("width", 61).attr("height", 23)
    .attr("fill", b.fill).attr("shape-rendering","crispEdges");
  bx.append("text").attr("x", plot.right + 9).attr("y", cy).attr("dy", "0.36em")
    .attr("font-family", axisFont).attr("font-size", priceSize).attr("fill", "#fff").text(b.p.toFixed(3));
});

// header
svg.append("text").attr("x", 8).attr("y", 26).attr("font-family", axisFont).attr("font-size", 18)
  .attr("fill", "#000").attr("xml:space", "preserve").style("white-space", "pre").text(symbolInfo);

// chart-shift marker at top
svg.append("path").attr("d", `M${x(741.5) - 9},0 L${x(741.5) + 9},0 L${x(741.5)},8 Z`).attr("fill", "#a8a8a8");

// mouse cursor
svg.append("path")
  .attr("transform", "translate(850,923)")
  .attr("d", "M0,0 L0,33 L8,26 L14,39 L19,37 L13,24 L24,24 Z")
  .attr("fill", "#fff").attr("stroke", "#555").attr("stroke-width", 1.5).attr("stroke-linejoin", "miter");
</script>
</body></html>
